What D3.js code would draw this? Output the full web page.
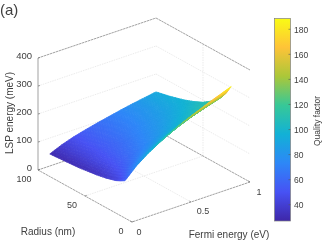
<!DOCTYPE html>
<html><head><meta charset="utf-8">
<script src="https://cdnjs.cloudflare.com/ajax/libs/d3/7.8.5/d3.min.js"></script>
<style>html,body{margin:0;padding:0;background:#fff}svg{display:block;filter:blur(0.3px)}text{font-family:"Liberation Sans",Arial,sans-serif;fill:#404040}</style>
</head><body><svg id="c" width="332" height="249"></svg>
<script>
const fermi = [0.1,0.2,0.3,0.4,0.5,0.6,0.7,0.8,0.9,1];
const radius = [100,85,70,60,50,40,35,30,25,20];
const lsp = [
[43,61,75,86,96,105,114,122,129,136],
[47,66,81,93,104,114,123,132,140,148],
[51,73,89,103,115,126,136,145,154,163],
[56,78,96,111,124,136,147,157,167,176],
[61,86,105,122,136,149,161,172,182,192],
[68,96,118,136,152,167,180,192,204,215],
[73,103,126,145,163,178,193,206,218,230],
[78,111,136,157,175,192,208,222,235,248],
[86,122,149,172,192,211,228,243,258,272],
[96,136,167,192,215,236,254,272,288,304]];
const quality = [
[29,40,49,56,62,68,74,80,86,92],
[30,42,51,58,64,70,76,82,89,95],
[31,44,53,60,67,73,80,86,92,98],
[32,46,55,62,70,77,83,90,96,102],
[34,48,58,66,74,81,88,95,102,108],
[37,52,62,71,79,87,95,102,109,116],
[39,55,66,75,84,92,100,108,115,122],
[42,59,71,81,91,100,109,117,125,132],
[47,67,81,93,105,116,126,135,143,152],
[55,78,94,108,122,135,148,160,175,189]];
const zTicks = [0,100,200,300,400];
const rTicks = [0,50,100];
const eTicks = [0,0.5,1];
const cTicks = [40,60,80,100,120,140,160,180];
const parula = ["#3e26a8","#4752f4","#2d87f7","#12b1d6","#37c897","#abc739","#fec338","#f9fb15"];

const svg = d3.select("#c");
const origin = [132,222];
const eX = d3.scaleLinear([0,1],[0,118]), eY = d3.scaleLinear([0,1],[0,-40]);
const rX = d3.scaleLinear([0,100],[0,-94]), rY = d3.scaleLinear([0,100],[0,-52]);
const zY = d3.scaleLinear([0,400],[0,-112]);
const P = (e,r,z) => [origin[0]+eX(e)+rX(r), origin[1]+eY(e)+rY(r)+zY(z)];

const qMin=27, qMax=189;
const color = d3.scaleLinear().domain(d3.range(8).map(i=>qMin+(qMax-qMin)*i/7)).range(parula).interpolate(d3.interpolateRgb).clamp(true);
const defs = svg.append("defs");

const seg = (a,b,cls) => {
  const l = svg.append("line").attr("x1",a[0]).attr("y1",a[1]).attr("x2",b[0]).attr("y2",b[1]);
  if(cls==="grid") l.attr("stroke","#e2e2e2").attr("stroke-width",0.7).attr("stroke-dasharray","1.5 1");
  else l.attr("stroke","#7a7a7a").attr("stroke-width",0.7).attr("stroke-dasharray",cls==="solid"?null:"2.5 0.6");
  return l;
};
// grid
zTicks.slice(1,4).forEach(z=>{ seg(P(0,100,z),P(1,100,z),"grid"); seg(P(1,100,z),P(1,0,z),"grid"); });
seg(P(0,50,0),P(1,50,0),"grid"); seg(P(0.5,0,0),P(0.5,100,0),"grid");
seg(P(1,50,0),P(1,50,400),"grid");
// box
seg(P(0,100,0),P(1,100,0)); seg(P(1,100,0),P(1,0,0)); seg(P(1,0,0),P(0,0,0)); seg(P(0,0,0),P(0,100,0));
seg(P(0,100,400),P(1,100,400)); seg(P(1,100,400),P(1,0,400));
seg(P(0,100,0),P(0,100,400),"solid");

// surface: each table cell is shaded in small flat facets
const g = svg.append("g");
const N = 5;
const mix = (m,i,j,u,v) => (m[i][j]*(1-u)+m[i][j+1]*u)*(1-v)+(m[i+1][j]*(1-u)+m[i+1][j+1]*u)*v;
const lerp = (a,b,t)=>a+(b-a)*t;
const line = d3.line();
for(let i=0;i<radius.length-1;i++){
  for(let sv=0;sv<N;sv++){
    for(let j=fermi.length-2;j>=0;j--){
      for(let su=N-1;su>=0;su--){
        const pt=(uu,vv)=>P(lerp(fermi[j],fermi[j+1],uu),lerp(radius[i],radius[i+1],vv),mix(lsp,i,j,uu,vv));
        const u0=su/N,u1=(su+1)/N,v0=sv/N,v1=(sv+1)/N;
        const c=color(mix(quality,i,j,(u0+u1)/2,(v0+v1)/2));
        g.append("path").attr("d",line([pt(u0,v0),pt(u1,v0),pt(u1,v1),pt(u0,v1)])+"Z")
          .attr("fill",c).attr("stroke",c).attr("stroke-width",0.8).attr("stroke-linejoin","round");
      }
    }
  }
}

// tick marks & labels
const txt=(x,y,s,anchor,size,rot)=>{const t=svg.append("text").attr("x",x).attr("y",y).attr("text-anchor",anchor||"middle").attr("font-size",size||9).attr("dominant-baseline","central").text(s); if(rot!=null)t.attr("transform",`rotate(${rot} ${x} ${y})`);return t;};
zTicks.forEach(z=>{const p=P(0,100,z); seg(p,[p[0]+2,p[1]-0.5],"solid"); txt(p[0]-6,p[1]-2.2,z,"end",9.5);});
rTicks.forEach(r=>{const p=P(0,r,0); seg(p,[p[0]+1.8,p[1]-0.7],"solid");});
[[100,24,179],[50,72,205],[0,121,231]].forEach(d=>txt(d[1],d[2],d[0]));
eTicks.forEach(e=>{const p=P(e,0,0); seg(p,[p[0]-1.8,p[1]-1],"solid");});
[[0,139,232],[0.5,203,211],[1,259,192]].forEach(d=>txt(d[1],d[2],d[0]));
txt(48,231,"Radius (nm)","middle",10);
txt(229,234.5,"Fermi energy (eV)","middle",10);
txt(9,113,"LSP energy (meV)","middle",10,-90);
txt(0,9,"(a)","start",15);

// colorbar
const cScale = d3.scaleLinear([qMin,qMax],[221,18]);
const cg = defs.append("linearGradient").attr("id","cb").attr("x1",0).attr("y1",1).attr("x2",0).attr("y2",0);
parula.forEach((c,i)=>cg.append("stop").attr("offset",i/7).attr("stop-color",c));
svg.append("rect").attr("x",274.5).attr("y",18.5).attr("width",16).attr("height",202.5).attr("fill","url(#cb)").attr("stroke","#808080").attr("stroke-width",0.7);
const ax = svg.append("g").attr("transform","translate(291,0)").call(d3.axisRight(cScale).tickValues(cTicks).tickSize(0).tickPadding(3));
ax.select(".domain").remove();
ax.selectAll("text").attr("font-size",8.5).attr("font-family",null).attr("fill","#404040");
cTicks.forEach(t=>{svg.append("line").attr("x1",288.5).attr("x2",290.5).attr("y1",cScale(t)).attr("y2",cScale(t)).attr("stroke","#555").attr("stroke-width",0.6);});
txt(317,121,"Quality factor","middle",8.5,-90);
</script></body></html>
